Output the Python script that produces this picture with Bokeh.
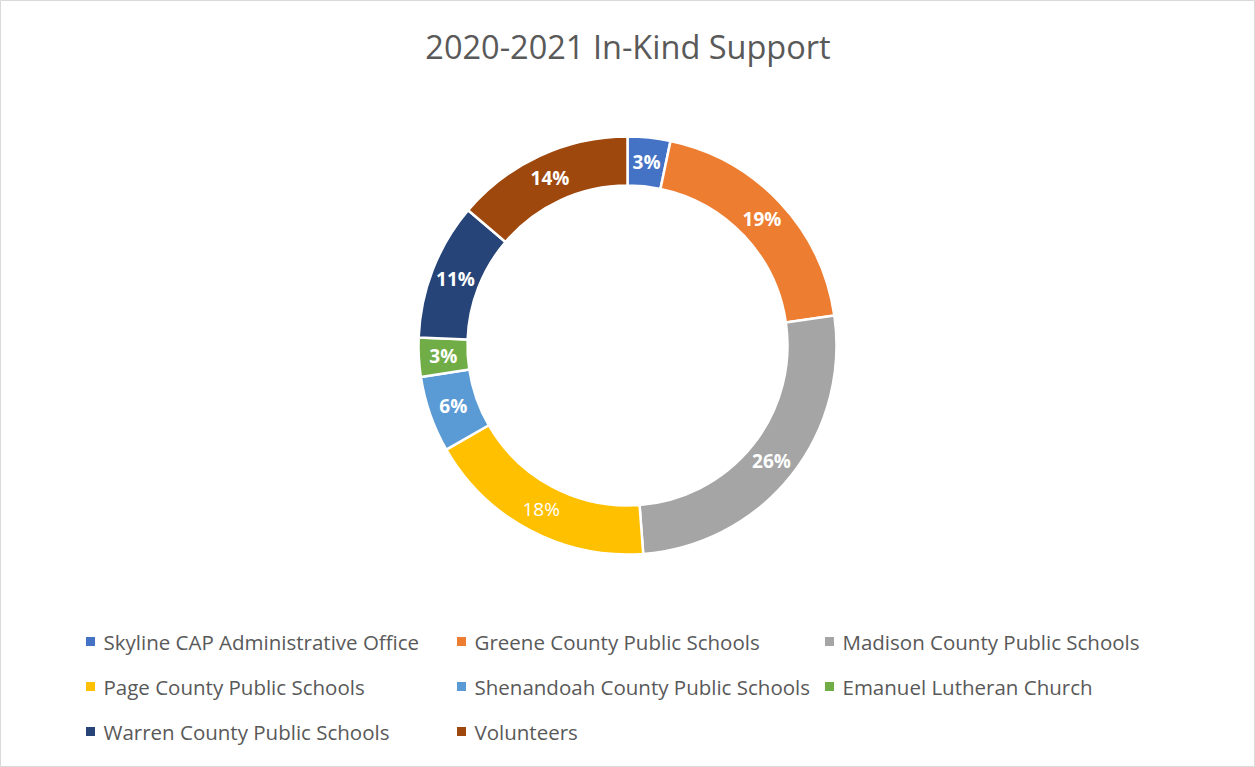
import math
from bokeh.plotting import figure
from bokeh.models import Range1d, ColumnDataSource
from bokeh.core.properties import value
from bokeh.embed import file_html
from bokeh.resources import INLINE

title_text = "2020-2021 In-Kind Support"
categories = [
    "Skyline CAP Administrative Office",
    "Greene County Public Schools",
    "Madison County Public Schools",
    "Page County Public Schools",
    "Shenandoah County Public Schools",
    "Emanuel Lutheran Church",
    "Warren County Public Schools",
    "Volunteers",
]
shares = [3.3, 19.4, 26.1, 17.9, 5.9, 3.0, 10.6, 13.8]
colors = ["#4472C4", "#ED7D31", "#A5A5A5", "#FFC000", "#5B9BD5", "#70AD47", "#264478", "#9E480E"]
label_bold = [True, True, True, False, True, True, True, True]

W, H = 1255, 767
FONT = "Open Sans"

p = figure(width=W, height=H, output_backend="svg", toolbar_location=None,
           x_range=Range1d(0, W), y_range=Range1d(0, H), min_border=0)
p.axis.visible = False
p.grid.visible = False
p.outline_line_color = "#D9D9D9"
p.outline_line_width = 1
p.background_fill_color = "white"
p.border_fill_color = "white"

cx, cy = 627, H - 345
r_out, r_in = 209, 160

total = sum(shares)
starts, ends, mids = [], [], []
acc = 0.0
for s in shares:
    a0 = math.pi / 2 - 2 * math.pi * acc / total
    acc += s
    a1 = math.pi / 2 - 2 * math.pi * acc / total
    starts.append(a0)
    ends.append(a1)
    mids.append((a0 + a1) / 2)

src = ColumnDataSource(dict(start=starts, end=ends, color=colors))
p.annular_wedge(x=cx, y=cy, inner_radius=r_in, outer_radius=r_out,
                start_angle="start", end_angle="end", direction="clock",
                fill_color="color", line_color="white", line_width=2.5, source=src)

r_lab = (r_in + r_out) / 2
lx = [cx + r_lab * math.cos(m) for m in mids]
ly = [cy + r_lab * math.sin(m) for m in mids]
labels = [f"{round(100 * s / total)}%" for s in shares]
for bold in (True, False):
    idx = [i for i in range(len(shares)) if label_bold[i] == bold]
    p.text(x=[lx[i] for i in idx], y=[ly[i] for i in idx], text=[labels[i] for i in idx],
           text_color="white", text_font=value(FONT), text_font_size="19px",
           text_font_style="bold" if bold else "normal",
           text_align="center", text_baseline="middle")

# title
p.text(x=[W / 2], y=[H - 46], text=[title_text], text_color="#595959",
       text_font=value(FONT), text_font_size="32.5px",
       text_align="center", text_baseline="middle")

# legend
col_x = [90, 461, 829]
row_y = [641, 686, 731]
leg_x = [col_x[i % 3] for i in range(len(categories))]
leg_y = [H - row_y[i // 3] for i in range(len(categories))]
p.rect(x=leg_x, y=leg_y, width=9, height=9, fill_color=colors, line_color=None)
p.text(x=[x + 13 for x in leg_x], y=leg_y, text=categories, text_color="#595959",
       text_font=value(FONT), text_font_size="20.5px",
       text_align="left", text_baseline="middle")

open("out.html", "w").write(file_html(p, INLINE))
